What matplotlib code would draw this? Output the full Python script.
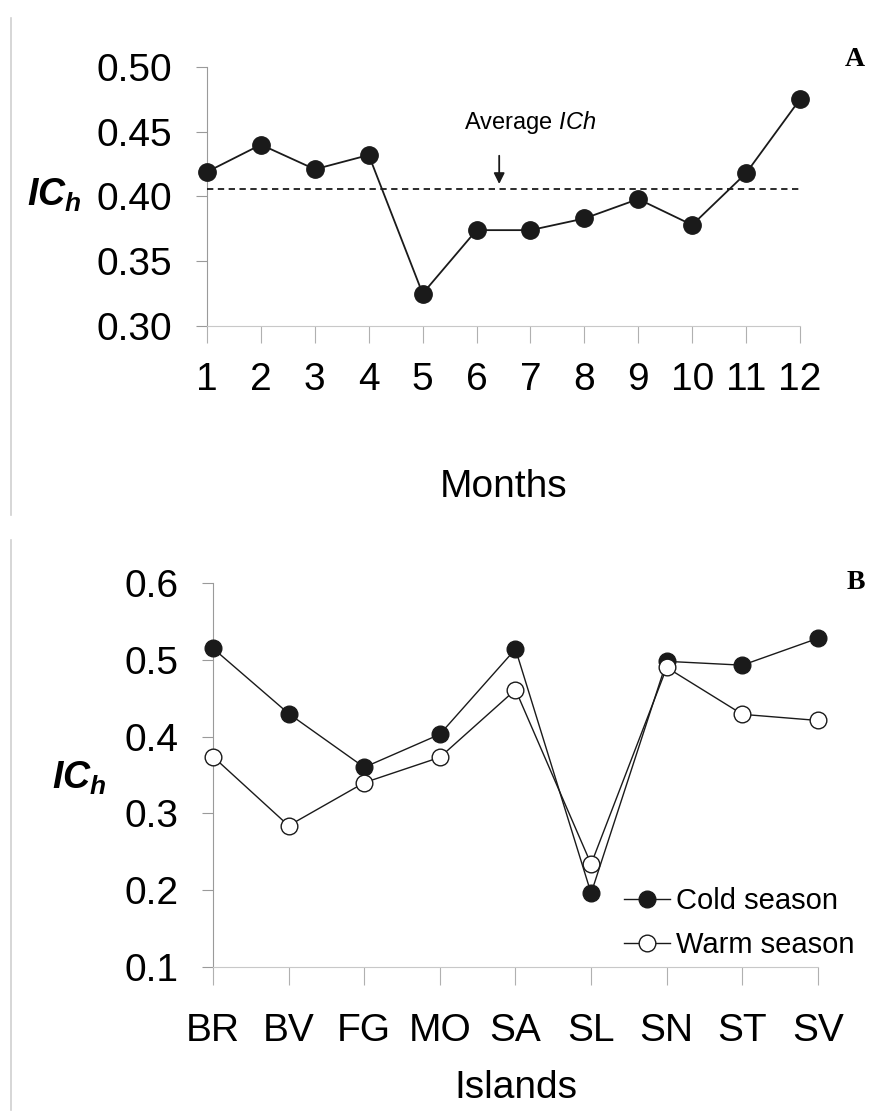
import numpy as np
import matplotlib
matplotlib.use('Agg')
import matplotlib.pyplot as plt
from matplotlib.lines import Line2D

plt.rcParams['font.family'] = ['Liberation Sans', 'DejaVu Sans']
plt.rcParams['mathtext.fontset'] = 'custom'
plt.rcParams['mathtext.rm'] = 'Liberation Sans'
plt.rcParams['mathtext.it'] = 'Liberation Sans:italic'
plt.rcParams['mathtext.bf'] = 'Liberation Sans:bold'
plt.rcParams['mathtext.bfit'] = 'Liberation Sans:italic:bold'

# ─── Data ───────────────────────────────────────────────────────────────────
months = list(range(1, 13))
ich_month = [0.419, 0.440, 0.421, 0.432, 0.325, 0.374, 0.374, 0.383, 0.398, 0.378, 0.418, 0.475]
ich_average = 0.4055

islands = ['BR', 'BV', 'FG', 'MO', 'SA', 'SL', 'SN', 'ST', 'SV']
ich_cold = [0.515, 0.430, 0.360, 0.403, 0.514, 0.196, 0.498, 0.493, 0.528]
ich_warm = [0.374, 0.284, 0.340, 0.373, 0.461, 0.234, 0.490, 0.429, 0.421]

yticks_a = [0.30, 0.35, 0.40, 0.45, 0.50]
yticks_b = [0.1, 0.2, 0.3, 0.4, 0.5, 0.6]

TICK_FS = 28
SPINE = '#9a9a9a'
ICH = r'$\mathbfit{IC}_{\mathbfit{h}}$'

fig = plt.figure(figsize=(8.87, 11.16), dpi=100)


def style_axes(ax, xlen, xpad):
    for s in ['top', 'right']:
        ax.spines[s].set_visible(False)
    ax.spines['left'].set_color(SPINE)
    ax.spines['bottom'].set_color('#c8c8c8')
    ax.spines['left'].set_linewidth(0.8)
    ax.spines['bottom'].set_linewidth(0.8)
    ax.tick_params(axis='y', direction='out', length=8, width=0.8, color=SPINE,
                   labelsize=TICK_FS, pad=17)
    ax.tick_params(axis='x', direction='out', length=xlen, width=0.8, color='#b0b0b0',
                   labelsize=TICK_FS, pad=xpad)


# ── Panel A: months ─────────────────────────────────────────────────────────
ax_a = fig.add_axes([0.2334, 0.7079, 0.6685, 0.2321])
ax_a.plot(months, ich_month, '-o', color='#1a1a1a', lw=1.3, ms=12.5,
          clip_on=False, zorder=4)
ax_a.plot([months[0], months[-1]], [ich_average, ich_average], '--',
          color='#1a1a1a', lw=1.3, dashes=(3.5, 2.5), zorder=3)
ax_a.set_xlim(1, 12)
ax_a.set_ylim(0.30, 0.50)
ax_a.set_xticks(months)
ax_a.set_yticks(yticks_a)
ax_a.set_yticklabels([f'{v:.2f}' for v in yticks_a])
style_axes(ax_a, 12, 14)
ax_a.set_xlabel('Months', fontsize=TICK_FS, labelpad=51)
ax_a.text(-0.258, 0.401, ICH, transform=ax_a.get_yaxis_transform(),
          fontsize=27, ha='center', va='center')
ax_a.annotate('', xy=(6.42, ich_average + 0.002), xytext=(6.42, 0.4336),
              arrowprops=dict(arrowstyle='-|>', color='#1a1a1a', lw=1.3,
                              mutation_scale=16))
ax_a.text(6.99, 0.4575, r'Average $\mathit{ICh}$', fontsize=17, ha='center', va='center')
fig.text(0.975, 0.947, 'A', family='Liberation Serif', fontweight='bold', fontsize=20,
         ha='right', va='center')

# ── Panel B: islands ────────────────────────────────────────────────────────
x_isl = np.arange(len(islands))
ax_b = fig.add_axes([0.2401, 0.1335, 0.6821, 0.3441])
ax_b.plot(x_isl, ich_cold, '-o', color='#1a1a1a', mfc='#1a1a1a', mec='#1a1a1a',
          lw=1.0, ms=12, clip_on=False, zorder=4, label='Cold season')
ax_b.plot(x_isl, ich_warm, '-o', color='#1a1a1a', mfc='white', mec='#1a1a1a',
          mew=1.0, lw=1.0, ms=12, clip_on=False, zorder=5, label='Warm season')
ax_b.set_xlim(0, len(islands) - 1)
ax_b.set_ylim(0.1, 0.6)
ax_b.set_xticks(x_isl)
ax_b.set_xticklabels(islands)
ax_b.set_yticks(yticks_b)
ax_b.set_yticklabels([f'{v:.1f}' for v in yticks_b])
style_axes(ax_b, 13, 20)
ax_b.set_xlabel('Islands', fontsize=TICK_FS, labelpad=15)
ax_b.text(-0.22, 0.345, ICH, transform=ax_b.get_yaxis_transform(),
          fontsize=27, ha='center', va='center')
leg = ax_b.legend(loc='lower right', bbox_to_anchor=(1.08, -0.01), frameon=False,
                  fontsize=21, handlelength=1.6, handletextpad=0.2, labelspacing=0.55,
                  borderaxespad=0)
fig.text(0.975, 0.478, 'B', family='Liberation Serif', fontweight='bold', fontsize=20,
         ha='right', va='center')

# ── faint frame edges (scanned figure boxes) ────────────────────────────────
fig.add_artist(Line2D([0.012, 0.012], [1 - 18 / 1116, 1 - 515 / 1116],
                      color='#d0d0d0', lw=1.2))
fig.add_artist(Line2D([0.012, 0.012], [1 - 540 / 1116, 1 - 1110 / 1116],
                      color='#d0d0d0', lw=1.2))

fig.savefig('out.png', dpi=100)
